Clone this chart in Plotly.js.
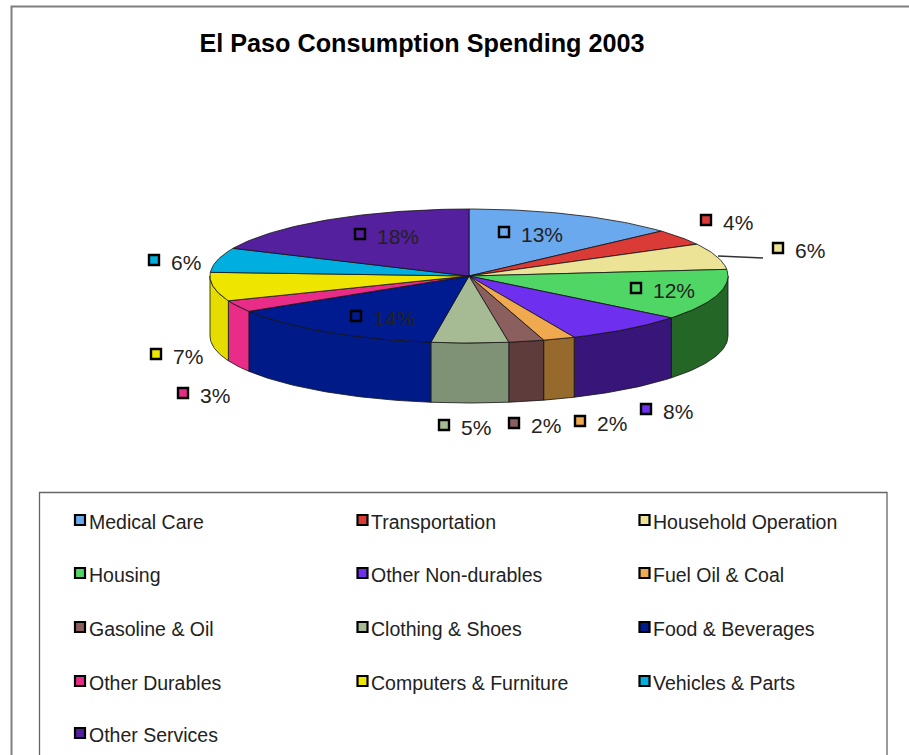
<!DOCTYPE html>
<html><head><meta charset="utf-8">
<script src="https://cdn.plot.ly/plotly-3.0.1.min.js"></script>
<style>html,body{margin:0;padding:0;background:#fff;overflow:hidden}#c{width:909px;height:755px}</style>
</head><body><div id="c"></div>
<script>
// Data
const categories = ["Medical Care","Transportation","Household Operation","Housing","Other Non-durables","Fuel Oil & Coal","Gasoline & Oil","Clothing & Shoes","Food & Beverages","Other Durables","Computers & Furniture","Vehicles & Parts","Other Services"];
const shares = [13.3,3.8,6.3,12.3,7.6,2.0,2.2,4.8,13.8,2.8,6.9,5.9,18.2];
const topColors = ["#6AA9EE","#DA3B37","#EDE396","#4FD664","#6F2FEF","#F0A94E","#8C5F5F","#A6BA94","#001A8F","#E82C88","#EFE600","#00AEDF","#55209E"];
const sideColors = ["#4A76A6","#982926","#A69F69","#246626","#381578","#966A2C","#5E3C3C","#7F9276","#001A88","#E82C88","#E5DC00","#007A9C","#3B166E"];

// Layout of the page, in axis units that equal pixels
const PIE = {cx:469, cy:276, rx:259, ry:67, depth:60};
const labelMarkerX = [504,706,778,636,646,580,514,444,356,183,156,154,360];
const labelMarkerY = [232,220,248,288,409,421,423,425,316,393,354,260,234];
const labelGap = 17;
const labelDrop = 2.5;
const legendCols = [80,362.5,644.5];
const legendRows = [520,573,627,681,733];
const FONT = '"Liberation Sans", Arial, sans-serif';

const rad = d => d*Math.PI/180;
const ptX = t => PIE.cx + PIE.rx*Math.sin(rad(t));
const ptY = t => PIE.cy - PIE.ry*Math.cos(rad(t));
const total = shares.reduce((a,b)=>a+b,0);
let acc = 0;
const slices = shares.map(v => { const s = acc/total*360; acc += v; return {s, e: acc/total*360}; });
const arc = (a,b) => { const o=[]; const n=Math.max(2,Math.ceil(Math.abs(b-a))); for(let i=0;i<=n;i++) o.push(a+(b-a)*i/n); return o; };

const traces = [];
// side walls (only the front half of the disc)
slices.forEach((sl,i)=>{
  const a = Math.max(sl.s,90), b = Math.min(sl.e,270);
  if (b <= a) return;
  const ts = arc(a,b);
  const xs = ts.map(ptX), ys = ts.map(ptY);
  const rev = ts.slice().reverse();
  traces.push({type:'scatter',mode:'lines',fill:'toself',fillcolor:sideColors[i],
    x: xs.concat(rev.map(ptX), xs[0]),
    y: ys.concat(rev.map(t=>ptY(t)+PIE.depth), ys[0]),
    line:{color:'#111',width:0.8},name:categories[i]+' (side)',hoverinfo:'skip',showlegend:false});
});
// top faces
slices.forEach((sl,i)=>{
  const ts = arc(sl.s,sl.e);
  traces.push({type:'scatter',mode:'lines',fill:'toself',fillcolor:topColors[i],
    x:[PIE.cx].concat(ts.map(ptX),PIE.cx),
    y:[PIE.cy].concat(ts.map(ptY),PIE.cy),
    line:{color:'#111',width:0.8},name:categories[i],text:categories[i]+' '+Math.round(shares[i])+'%',hoverinfo:'text',showlegend:false});
});
// leader line of the Household Operation label
traces.push({type:'scatter',mode:'lines',x:[718,763],y:[256,258],line:{color:'#333',width:1.5},hoverinfo:'skip',showlegend:false});
// data labels
traces.push({type:'scatter',mode:'markers',x:labelMarkerX,y:labelMarkerY,
  marker:{symbol:'square',size:10,color:topColors,line:{color:'#000',width:2.4}},hoverinfo:'skip',showlegend:false});
// legend
const legX = categories.map((_,i)=>legendCols[i%3]);
const legY = categories.map((_,i)=>legendRows[Math.floor(i/3)]);
traces.push({type:'scatter',mode:'markers',x:legX,y:legY,
  marker:{symbol:'square',size:10,color:topColors,line:{color:'#000',width:2.2}},hoverinfo:'skip',showlegend:false});

const annotations = [];
categories.forEach((c,i)=>{
  annotations.push({xref:'x',yref:'y',x:labelMarkerX[i]+labelGap,y:labelMarkerY[i]+labelDrop,xanchor:'left',yanchor:'middle',showarrow:false,
    text:Math.round(shares[i])+'%',font:{family:FONT,size:21,color:'#222'},borderpad:0,borderwidth:0});
  annotations.push({xref:'x',yref:'y',x:legX[i]+8.5,y:legY[i]+1.5,xanchor:'left',yanchor:'middle',showarrow:false,
    text:c,font:{family:FONT,size:19.5,color:'#222'},borderpad:0,borderwidth:0});
});

const shapes = [
  {type:'rect',xref:'x',yref:'y',x0:11.5,x1:960,y0:6.5,y1:800,line:{color:'#7f7f7f',width:2},layer:'below'},
  {type:'rect',xref:'x',yref:'y',x0:39.5,x1:887,y0:492.5,y1:800,line:{color:'#666',width:1.3},layer:'below'}
];

Plotly.newPlot('c',traces,{
  width:909,height:755,margin:{l:0,r:0,t:0,b:0,pad:0},
  paper_bgcolor:'#fff',plot_bgcolor:'#fff',showlegend:false,hovermode:'closest',
  title:{text:'<b>El Paso Consumption Spending 2003</b>',x:422/909,xref:'paper',xanchor:'center',y:1-43/755,yref:'paper',yanchor:'middle',font:{family:FONT,size:25.2,color:'#000'}},
  xaxis:{visible:false,range:[0,909],fixedrange:true},
  yaxis:{visible:false,range:[755,0],fixedrange:true},
  shapes,annotations
},{displayModeBar:false,staticPlot:false});
</script></body></html>
